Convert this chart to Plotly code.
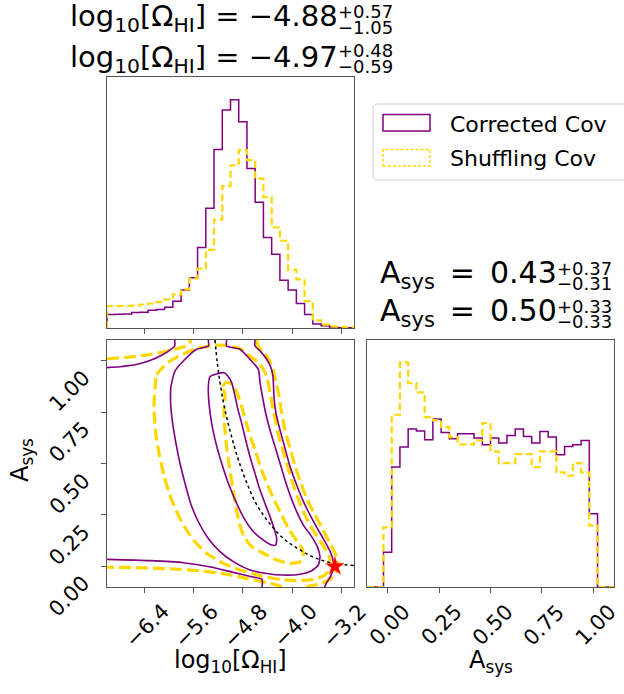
import numpy as np
import plotly.graph_objects as go

# ---------------------------------------------------------------- data
OMEGA_RANGE = [-7.0, -3.0]
ASYS_RANGE = [-0.1, 1.1]
N_BINS = 30

omega_ticks = [-6.4, -5.6, -4.8, -4.0, -3.2]
omega_ticktext = ["−6.4", "−5.6", "−4.8", "−4.0", "−3.2"]
asys_ticks = [0.0, 0.25, 0.5, 0.75, 1.0]
asys_ticktext = ["0.00", "0.25", "0.50", "0.75", "1.00"]

# 1D marginal histograms (30 bins over each range)
omega_counts_corrected = [40, 41, 42, 46, 47, 53, 55, 62, 80, 113, 150, 240, 357, 532, 650,
                          680, 615, 475, 375, 270, 220, 142, 113, 73, 40, 12, 7, 3, 1, 1]
omega_counts_shuffling = [65, 65, 66, 67, 70, 73, 77, 85, 100, 115, 148, 177, 233, 323, 423,
                          485, 530, 500, 445, 390, 300, 260, 173, 145, 80, 23, 10, 5, 3, 2]
asys_counts_corrected = [0, 0, 104, 360, 420, 474, 468, 442, 504, 464, 445, 460, 460, 447, 427,
                         447, 432, 455, 474, 452, 432, 467, 450, 397, 422, 427, 440, 220, 0, 0]
asys_counts_shuffling = [0, 0, 179, 517, 674, 612, 584, 510, 500, 480, 450, 428, 428, 440, 492,
                         407, 372, 372, 399, 399, 360, 407, 407, 344, 334, 372, 344, 184, 0, 0]

# 2D credible contours (log10 Omega_HI, A_sys); None splits pieces cut by the frame
inner_corr_x = [-5.332, -5.359, -5.348, -5.305, -5.235, -5.143, -5.035, -4.900, -4.765, -4.630,
                -4.468, -4.333, -4.269, -4.252, -4.296, -4.360, -4.441, -4.522, -4.603, -4.684,
                -4.754, -4.819, -4.884, -4.927, -4.981, -5.035, -5.105, -5.224, -5.332]
inner_corr_y = [0.922, 0.873, 0.792, 0.695, 0.598, 0.501, 0.404, 0.306, 0.226, 0.169,
                0.128, 0.104, 0.104, 0.136, 0.185, 0.242, 0.306, 0.371, 0.452, 0.533,
                0.614, 0.695, 0.768, 0.828, 0.893, 0.922, 0.941, 0.935, 0.922]

inner_shuf_x = [-5.089, -5.127, -5.073, -4.997, -4.927, -4.873, -4.803, -4.711, -4.603, -4.495,
                -4.387, -4.279, -4.171, -4.063, -3.955, -3.858, -3.820, -3.874, -4.036, -4.252,
                -4.468, -4.657, -4.781, -4.857, -4.911, -4.965, -5.019, -5.062, -5.094, -5.105,
                -5.089]
inner_shuf_y = [0.836, 0.873, 0.893, 0.889, 0.865, 0.828, 0.760, 0.663, 0.566, 0.468,
                0.387, 0.315, 0.250, 0.185, 0.136, 0.096, 0.060, 0.023, 0.015, 0.031,
                0.064, 0.096, 0.145, 0.209, 0.290, 0.387, 0.485, 0.582, 0.679, 0.760,
                0.836]

mid_corr_x = [-5.359, -5.359, -5.548, -5.764, -5.899, -5.964, -5.969, -5.937, -5.883, -5.818,
              -5.737, -5.645, -5.521, -5.359, -5.170, -4.954, -4.684, -4.414, -4.144, -3.874,
              -3.686, -3.578, -3.551, -3.594, -3.686, -3.820, -3.928, -4.026, -4.117, -4.198,
              -4.279, -4.360, -4.430, -4.484, -4.522, -4.549, -4.684, -4.846, -5.062, -5.062]
mid_corr_y = [1.100, 1.071, 1.055, 0.998, 0.949, 0.873, 0.792, 0.695, 0.598, 0.501,
              0.404, 0.306, 0.217, 0.136, 0.072, 0.023, -0.017, -0.034, -0.042, -0.038,
              -0.021, 0.007, 0.047, 0.096, 0.145, 0.201, 0.266, 0.339, 0.420, 0.501,
              0.582, 0.663, 0.744, 0.828, 0.893, 0.957, 1.006, 1.055, 1.071, 1.100]

mid_shuf_x = [-6.223, -6.196, -6.088, -5.953, -5.764, -5.548, -5.278, -5.062, -4.846, -4.684,
              -4.522, -4.414, -4.360, -4.306, -4.242, -4.161, -4.074, -3.982, -3.874, -3.756,
              -3.615, -3.486, -3.400, -3.389, -3.470, -3.659, -3.928, -4.198, -4.522, -4.846,
              -5.116, -5.386, -5.602, -5.791, -5.953, -6.072, -6.158, -6.217, -6.239, -6.223]
mid_shuf_y = [0.865, 0.930, 0.970, 1.003, 1.032, 1.058, 1.074, 1.074, 1.058, 1.022,
              0.982, 0.925, 0.844, 0.760, 0.663, 0.574, 0.485, 0.396, 0.306, 0.226,
              0.153, 0.096, 0.047, -0.001, -0.042, -0.063, -0.069, -0.063, -0.045, -0.017,
              0.015, 0.064, 0.128, 0.217, 0.323, 0.436, 0.549, 0.663, 0.776, 0.865]

outer_corr_x = [-7.0, -6.789, -6.509, -6.304, -6.115, -5.980, -5.904, -5.904, None,
                -4.603, -4.603, -4.522, -4.425, -4.350, -4.312, -4.296, -4.263, -4.198, -4.117,
                -4.036, -3.939, -3.831, -3.713, -3.594, -3.470, -3.378, -3.335, -3.335, -3.378,
                -3.443, -3.475, None,
                -4.490, -4.490, -4.657, -4.954, -5.278, -5.764, -6.304, -7.0]
outer_corr_y = [0.966, 0.970, 0.982, 1.000, 1.026, 1.051, 1.071, 1.100, None,
                1.100, 1.071, 1.047, 1.011, 0.970, 0.922, 0.825, 0.744, 0.663, 0.574,
                0.485, 0.404, 0.323, 0.250, 0.185, 0.120, 0.067, 0.023, -0.009, -0.047,
                -0.079, -0.100, None,
                -0.100, -0.063, -0.050, -0.029, -0.005, 0.018, 0.028, 0.034]

outer_shuf_x = [-7.0, -6.682, -6.358, -6.077, -5.899, -5.737, -5.667, -5.645, None,
                -4.576, -4.549, -4.468, -4.387, -4.317, -4.263, -4.215, -4.171, -4.117, -4.036,
                -3.950, -3.858, -3.756, -3.632, -3.507, -3.389, -3.292, -3.259, -3.292, -3.389,
                -3.551, -3.713, -3.777, None,
                -4.166, -4.252, -4.414, -4.738, -5.062, -5.494, -6.034, -6.574, -7.0]
outer_shuf_y = [1.009, 1.016, 1.027, 1.042, 1.055, 1.068, 1.081, 1.100, None,
                1.100, 1.068, 1.038, 1.011, 0.962, 0.898, 0.828, 0.744, 0.663, 0.574,
                0.485, 0.404, 0.323, 0.250, 0.180, 0.112, 0.055, 0.015, -0.026, -0.063,
                -0.085, -0.095, -0.100, None,
                -0.100, -0.090, -0.079, -0.058, -0.038, -0.021, -0.011, -0.006, -0.004]

# degeneracy curve and reference point
degen_x = [-5.251, -5.213, -5.159, -5.089, -4.997, -4.889, -4.754, -4.587, -4.387, -4.144,
           -3.874, -3.605, -3.335, -3.000]
degen_y = [1.100, 0.987, 0.873, 0.760, 0.647, 0.533, 0.420, 0.306, 0.217, 0.136,
           0.080, 0.039, 0.015, 0.005]
truth_point = (-3.31, 0.0)

# summary statistics for panel titles
omega_stats = [("−4.88", "+0.57", "−1.05"), ("−4.97", "+0.48", "−0.59")]
asys_stats = [("0.43", "+0.37", "−0.31"), ("0.50", "+0.33", "−0.33")]
legend_labels = ["Corrected Cov", "Shuffling Cov"]

# ---------------------------------------------------------------- style
W, H = 624, 694
PURPLE = "#800080"
GOLD = "#FFD700"
FRAME = "#555555"
FONT = "DejaVu Sans"

# panel boxes in pixels (left, right, top, bottom)
LEFT_PX = (107, 354)
RIGHT_PX = (367, 614)
TOP_PX = (77, 328)
BOT_PX = (340, 587)


def px(xp):
    return xp / W


def py(yp):
    return 1 - yp / H


def step_xy(edges, counts):
    xs, ys = [edges[0]], [0]
    for i, c in enumerate(counts):
        xs += [edges[i], edges[i + 1]]
        ys += [c, c]
    xs.append(edges[-1])
    ys.append(0)
    return xs, ys


omega_edges = np.linspace(OMEGA_RANGE[0], OMEGA_RANGE[1], N_BINS + 1)
asys_edges = np.linspace(ASYS_RANGE[0], ASYS_RANGE[1], N_BINS + 1)

fig = go.Figure()

# top-left marginal
for counts, color, dash, width in [(omega_counts_corrected, PURPLE, "solid", 1.5),
                                    (omega_counts_shuffling, GOLD, "7px,3.5px", 2.2)]:
    hx, hy = step_xy(omega_edges, counts)
    fig.add_trace(go.Scatter(x=hx, y=hy, mode="lines", xaxis="x", yaxis="y",
                             line=dict(color=color, width=width, dash=dash),
                             showlegend=False, hoverinfo="skip"))

# bottom-right marginal
for counts, color, dash, width in [(asys_counts_corrected, PURPLE, "solid", 1.5),
                                    (asys_counts_shuffling, GOLD, "7px,3.5px", 2.2)]:
    hx, hy = step_xy(asys_edges, counts)
    fig.add_trace(go.Scatter(x=hx, y=hy, mode="lines", xaxis="x3", yaxis="y3",
                             line=dict(color=color, width=width, dash=dash),
                             showlegend=False, hoverinfo="skip"))

# 2D contours
contours = [
    (outer_shuf_x, outer_shuf_y, GOLD), (mid_shuf_x, mid_shuf_y, GOLD),
    (inner_shuf_x, inner_shuf_y, GOLD),
    (outer_corr_x, outer_corr_y, PURPLE), (mid_corr_x, mid_corr_y, PURPLE),
    (inner_corr_x, inner_corr_y, PURPLE),
]
for cx, cy, color in contours:
    if color == GOLD:
        line = dict(color=color, width=3.2, dash="12px,5px", shape="spline", smoothing=0.6)
    else:
        line = dict(color=color, width=1.6, shape="spline", smoothing=0.6)
    fig.add_trace(go.Scatter(x=cx, y=cy, mode="lines", xaxis="x2", yaxis="y2",
                             line=line, showlegend=False, hoverinfo="skip"))

fig.add_trace(go.Scatter(x=degen_x, y=degen_y, mode="lines", xaxis="x2", yaxis="y2",
                         line=dict(color="black", width=1.5, dash="dot", shape="spline"),
                         showlegend=False, hoverinfo="skip"))
fig.add_trace(go.Scatter(x=[truth_point[0]], y=[truth_point[1]], mode="markers",
                         xaxis="x2", yaxis="y2",
                         marker=dict(symbol="star", size=14, color="red",
                                     line=dict(color="#ff4000", width=0.5)),
                         showlegend=False, hoverinfo="skip", cliponaxis=False))

# ---------------------------------------------------------------- axes
LEFT_DOM = [px(LEFT_PX[0]), px(LEFT_PX[1])]
RIGHT_DOM = [px(RIGHT_PX[0]), px(RIGHT_PX[1])]
TOP_DOM = [py(TOP_PX[1]), py(TOP_PX[0])]
BOT_DOM = [py(BOT_PX[1]), py(BOT_PX[0])]

frame = dict(showline=True, mirror=True, linecolor=FRAME, linewidth=1.3,
             showgrid=False, zeroline=False, ticklen=5, tickwidth=1.2, tickcolor=FRAME)
hist_top = 1.1 * max(max(omega_counts_corrected), max(omega_counts_shuffling))
hist_right = 1.1 * max(max(asys_counts_corrected), max(asys_counts_shuffling))

fig.update_layout(
    width=W, height=H, autosize=False,
    margin=dict(l=0, r=0, t=0, b=0),
    paper_bgcolor="white", plot_bgcolor="white",
    font=dict(family=FONT, color="black"),
    xaxis=dict(domain=LEFT_DOM, anchor="y", range=OMEGA_RANGE, ticks="outside",
               tickvals=omega_ticks, showticklabels=False, **frame),
    yaxis=dict(domain=TOP_DOM, anchor="x", range=[0, hist_top], ticks="",
               showticklabels=False, **frame),
    xaxis2=dict(domain=LEFT_DOM, anchor="y2", range=OMEGA_RANGE, ticks="outside",
                tickvals=omega_ticks, showticklabels=False, **frame),
    yaxis2=dict(domain=BOT_DOM, anchor="x2", range=ASYS_RANGE, ticks="outside",
                tickvals=asys_ticks, showticklabels=False, **frame),
    xaxis3=dict(domain=RIGHT_DOM, anchor="y3", range=ASYS_RANGE, ticks="outside",
                tickvals=asys_ticks, showticklabels=False, **frame),
    yaxis3=dict(domain=BOT_DOM, anchor="x3", range=[0, hist_right], ticks="",
                showticklabels=False, **frame),
)


def asys_to_px(v):
    span = ASYS_RANGE[1] - ASYS_RANGE[0]
    return BOT_PX[0] + (ASYS_RANGE[1] - v) / span * (BOT_PX[1] - BOT_PX[0])


ann = []
TICK_FONT = dict(family=FONT, size=21, color="black")
# rotated tick labels, bounding box centred under each tick
for v, t in zip(omega_ticks, omega_ticktext):
    ann.append(dict(x=v, xref="x2", y=py(598), yref="paper", text=t, showarrow=False,
                    xanchor="center", yanchor="top", textangle=-45, font=TICK_FONT,
                    borderpad=0, xshift=3))
for v, t in zip(asys_ticks, asys_ticktext):
    ann.append(dict(x=v, xref="x3", y=py(598), yref="paper", text=t, showarrow=False,
                    xanchor="center", yanchor="top", textangle=-45, font=TICK_FONT,
                    borderpad=0, xshift=2))
    ann.append(dict(x=px(96), xref="paper", y=py(asys_to_px(v) + 30), yref="paper",
                    text=t, showarrow=False, xanchor="right", yanchor="middle",
                    textangle=-45, font=TICK_FONT, borderpad=0))

# axis labels
LABEL_FONT = dict(family=FONT, size=24, color="black")
ann.append(dict(x=sum(LEFT_DOM) / 2, y=py(661), xref="paper", yref="paper",
                text="log<sub>10</sub>[Ω<sub>HI</sub>]", showarrow=False,
                xanchor="center", yanchor="middle", font=LABEL_FONT))
ann.append(dict(x=sum(RIGHT_DOM) / 2, y=py(661), xref="paper", yref="paper",
                text="A<sub>sys</sub>", showarrow=False,
                xanchor="center", yanchor="middle", font=LABEL_FONT))
ann.append(dict(x=px(21), y=py(460), xref="paper", yref="paper",
                text="A<sub>sys</sub>", showarrow=False, textangle=-90,
                xanchor="center", yanchor="middle", font=LABEL_FONT))

# panel titles: value with stacked upper/lower errors
SCRIPT_FONT = dict(family=FONT, size=18, color="black")


def add_title(prefix, eq, stats, join_x, centres, size):
    title_font = dict(family=FONT, size=size, color="black")
    for (val, up, lo), (yc, yup, ylo) in zip(stats, centres):
        ann.append(dict(x=px(join_x + 3), y=py(yc), xref="paper", yref="paper",
                        text=f"{prefix}{eq}{val}", showarrow=False, borderpad=0,
                        xanchor="right", yanchor="middle", font=title_font))
        ann.append(dict(x=px(join_x + 1), y=py(yup), xref="paper", yref="paper",
                        text=up, showarrow=False, borderpad=0,
                        xanchor="left", yanchor="middle", font=SCRIPT_FONT))
        ann.append(dict(x=px(join_x + 1), y=py(ylo), xref="paper", yref="paper",
                        text=lo, showarrow=False, borderpad=0,
                        xanchor="left", yanchor="middle", font=SCRIPT_FONT))


add_title("log<sub>10</sub>[Ω<sub>HI</sub>]", " = ", omega_stats, 336,
          [(17.5, 11.7, 27.5), (59, 50.6, 66.2)], 29)
add_title("A<sub>sys</sub>", "\u2002=\u2002", asys_stats, 555,
          [(275, 268, 283.3), (312.7, 306.7, 321.7)], 30)

# legend
LEG_FONT = dict(family=FONT, size=22, color="black")
for label, yc in zip(legend_labels, [124, 158.4]):
    ann.append(dict(x=px(449), y=py(yc), xref="paper", yref="paper", text=label,
                    showarrow=False, xanchor="left", yanchor="middle", font=LEG_FONT,
                    borderpad=0))

shapes = []
r_x, r_y = 5 / W, 5 / H
x0, x1, y0, y1 = px(373), px(640), py(180), py(104)
shapes.append(dict(
    type="path", xref="paper", yref="paper",
    path=(f"M {x0 + r_x},{y1} L {x1 - r_x},{y1} Q {x1},{y1} {x1},{y1 - r_y} "
          f"L {x1},{y0 + r_y} Q {x1},{y0} {x1 - r_x},{y0} L {x0 + r_x},{y0} "
          f"Q {x0},{y0} {x0},{y0 + r_y} L {x0},{y1 - r_y} Q {x0},{y1} {x0 + r_x},{y1} Z"),
    line=dict(color="#d0d0d0", width=1), fillcolor="rgba(255,255,255,0.8)", layer="above"))
shapes.append(dict(type="rect", xref="paper", yref="paper",
                   x0=px(383), x1=px(430), y0=py(131), y1=py(114.5),
                   line=dict(color=PURPLE, width=1.5), fillcolor="rgba(0,0,0,0)"))
shapes.append(dict(type="rect", xref="paper", yref="paper",
                   x0=px(383), x1=px(430), y0=py(166), y1=py(149.5),
                   line=dict(color=GOLD, width=1.5, dash="3px,2px"),
                   fillcolor="rgba(0,0,0,0)"))

fig.update_layout(annotations=ann, shapes=shapes)
fig.write_html("out.html")
